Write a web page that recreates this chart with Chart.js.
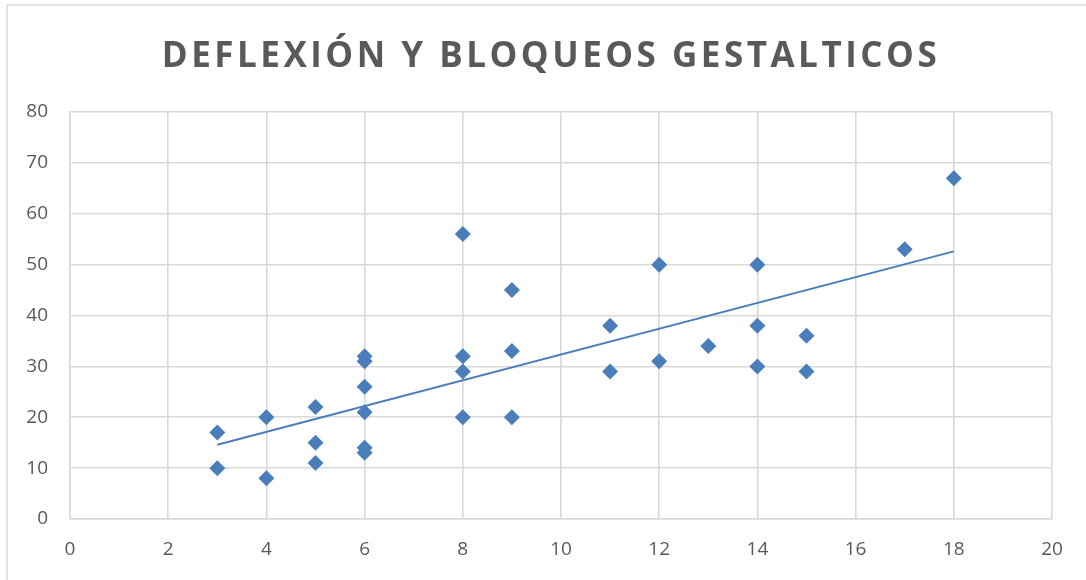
<!DOCTYPE html>
<html>
<head>
<meta charset="utf-8">
<script src="https://cdn.jsdelivr.net/npm/chart.js@4/dist/chart.umd.min.js"></script>
<style>
  html, body { margin: 0; padding: 0; background: #fff; }
  #wrap { width: 1086px; height: 580px; position: relative; }
</style>
</head>
<body>
<div id="wrap"><canvas id="scatterChart"></canvas></div>
<script>
const chartTitle = "DEFLEXIÓN Y BLOQUEOS GESTALTICOS";

// deflexión (x) vs bloqueos gestalticos (y)
const xValues = [3, 3, 4, 4, 5, 5, 5, 6, 6, 6, 6, 6, 6, 8, 8, 8, 8, 9, 9, 9, 11, 11, 12, 12, 13, 14, 14, 14, 15, 15, 17, 18];
const yValues = [17, 10, 20, 8, 22, 15, 11, 32, 31, 26, 21, 14, 13, 56, 32, 29, 20, 45, 33, 20, 38, 29, 50, 31, 34, 50, 38, 30, 36, 29, 53, 67];

// linear trendline end points
const trendX = [3, 18];
const trendY = [14.6, 52.6];

const xTicks = [0, 2, 4, 6, 8, 10, 12, 14, 16, 18, 20];
const yTicks = [0, 10, 20, 30, 40, 50, 60, 70, 80];

const blue = "#4a7ebb";
const gridColor = "#d9d9d9";
const textColor = "#595959";

const points = xValues.map((x, i) => ({ x: x, y: yValues[i] }));
const trend = trendX.map((x, i) => ({ x: x, y: trendY[i] }));

// draws the outer frame and the spaced-out title
const frameAndTitle = {
  id: "frameAndTitle",
  beforeDraw(chart) {
    const ctx = chart.ctx;
    ctx.save();
    ctx.strokeStyle = gridColor;
    ctx.lineWidth = 1.5;
    ctx.strokeRect(7, 5, 1100, 600);
    ctx.restore();
  },
  afterDraw(chart) {
    const ctx = chart.ctx;
    ctx.save();
    ctx.font = "bold 35px 'Open Sans'";
    ctx.fillStyle = textColor;
    ctx.textAlign = "center";
    ctx.textBaseline = "alphabetic";
    ctx.letterSpacing = "3.5px";
    ctx.fillText(chartTitle, 551, 67);
    ctx.restore();
  },
};

new Chart(document.getElementById("scatterChart"), {
  type: "scatter",
  data: {
    datasets: [
      {
        label: "Bloqueos",
        data: points,
        pointStyle: "rectRot",
        pointRadius: 8,
        pointHoverRadius: 8,
        backgroundColor: blue,
        borderColor: blue,
        borderWidth: 0,
        order: 1,
      },
      {
        label: "Tendencia",
        type: "line",
        data: trend,
        showLine: true,
        borderColor: blue,
        borderWidth: 2,
        pointRadius: 0,
        fill: false,
        order: 2,
      },
    ],
  },
  options: {
    responsive: true,
    maintainAspectRatio: false,
    animation: false,
    layout: {
      padding: { top: 112, right: 34, bottom: 0, left: 0 },
    },
    plugins: {
      legend: { display: false },
      title: { display: false },
      tooltip: { enabled: false },
    },
    scales: {
      x: {
        type: "linear",
        min: 0,
        max: 20,
        afterBuildTicks: (axis) => {
          axis.ticks = xTicks.map((v) => ({ value: v }));
        },
        afterFit: (axis) => {
          axis.height = 61;
        },
        grid: { color: gridColor, lineWidth: 1.6, drawTicks: false },
        border: { color: gridColor, width: 1.6 },
        ticks: {
          color: textColor,
          font: { family: "'Open Sans'", size: 19 },
          padding: 19,
        },
      },
      y: {
        type: "linear",
        min: 0,
        max: 80,
        afterBuildTicks: (axis) => {
          axis.ticks = yTicks.map((v) => ({ value: v }));
        },
        afterFit: (axis) => {
          axis.width = 70;
        },
        grid: { color: gridColor, lineWidth: 1.6, drawTicks: false },
        border: { color: gridColor, width: 1.6 },
        ticks: {
          color: textColor,
          font: { family: "'Open Sans'", size: 19 },
          padding: 22,
        },
      },
    },
  },
  plugins: [frameAndTitle],
});
</script>
</body>
</html>
